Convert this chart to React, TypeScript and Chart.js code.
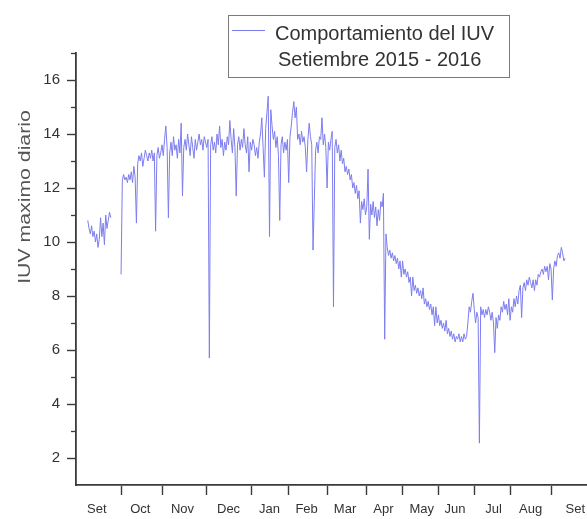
import { useEffect, useRef } from 'react';
import { Chart, registerables } from 'chart.js';

Chart.register(...registerables);

const FONT = '"Liberation Sans", Arial, Helvetica, sans-serif';
const LINE_COLOR = 'rgb(125,125,238)';
const AXIS_COLOR = '#3a3a3a';
const TEXT_COLOR = '#333333';

// day index of the first value (day 0 = start of the Setiembre axis)
const startDay = 4;

// daily maximum UV index, Setiembre 2015 - Setiembre 2016 (null = missing)
const iuvDaily: (number | null)[] = [
  10.8, 10.5, 10.3, 10.6, 10.2, 10.4, 10.0, 10.3, 9.8, 10.1,
  10.9, 10.2, 10.7, 9.9, 11.0, 10.5, 10.8, 11.1, 10.9,
  null, null, null, null, null, null, null,
  8.8, 12.3, 12.5, 12.3, 12.4, 12.2, 12.5, 12.3, 12.6, 12.2,
  12.8, 12.4, 10.7, 12.9, 13.2, 13.0, 13.3, 12.8, 13.1, 13.4,
  13.2, 13.0, 13.3, 13.1, 13.4, 13.0, 13.3, 10.4, 13.2, 13.5,
  13.1, 13.3, 13.6, 13.2, 13.8, 14.3, 13.5, 10.9, 13.3, 13.7,
  13.2, 13.9, 13.4, 13.6, 13.1, 13.8, 13.3, 14.4, 11.7, 13.5,
  13.8, 13.4, 14.0, 13.6, 13.2, 13.9, 13.5, 13.1, 13.8, 13.4,
  13.7, 14.0, 13.6, 13.8, 13.4, 13.9, 13.7, 13.5, 13.8, 5.7,
  13.6, 13.9, 13.4, 13.7, 13.3, 14.0, 13.6, 14.3, 13.5, 13.8,
  13.2, 13.7, 13.4, 13.9, 13.6, 14.5, 13.8, 13.3, 14.2, 13.5,
  11.7, 13.6, 13.9, 13.4, 13.8, 13.5, 14.2, 13.6, 13.3, 13.9,
  12.6, 13.7, 13.4, 13.8, 13.6, 13.2, 13.5, 13.1, 13.7, 14.0,
  14.6, 13.5, 12.4, 14.2, 14.8, 15.4, 10.2, 14.9, 14.3, 13.8,
  14.1, 13.5, 13.9, 13.2, 10.8, 13.6, 13.9, 13.3, 13.7, 13.4,
  13.8, 12.2, 13.9, 14.3, 14.8, 15.2, 14.6, 15.0, 13.8, 14.0,
  13.6, 14.1, 13.7, 13.9, 13.5, 12.6, 13.8, 14.4, 13.9, 13.6,
  9.7, 11.5, 13.4, 13.7, 13.3, 13.9, 13.8, 14.6, 13.6, 14.0,
  13.5, 12.0, 13.7, 13.4, 13.8, 14.1, 7.6, 13.5, 13.8, 13.3,
  13.6, 13.0, 13.4, 12.9, 13.1, 12.6, 12.8, 12.5, 12.7, 12.3,
  12.5, 12.0, 12.2, 11.8, 12.1, 11.6, 11.9, 10.7, 11.5, 11.2,
  11.6, 11.0, 11.3, 12.7, 10.1, 11.4, 11.0, 11.5, 10.9, 11.3,
  10.6, 11.2, 10.8, 11.5, 11.3, 11.8, 6.4, 10.3, 9.8, 9.5,
  9.7, 9.4, 9.6, 9.3, 9.5, 9.2, 9.4, 9.0, 9.3, 8.7,
  9.3, 8.8, 9.0, 8.7, 8.9, 8.5, 8.7, 8.0, 8.7, 8.2,
  8.4, 8.1, 8.3, 8.0, 8.2, 7.9, 8.3, 7.7, 7.9, 7.6,
  7.8, 7.5, 7.7, 7.3, 7.6, 6.9, 7.6, 7.0, 7.3, 6.9,
  7.1, 6.8, 7.0, 6.7, 7.1, 6.6, 6.8, 6.5, 6.7, 6.4,
  6.6, 6.3, 6.5, 6.4, 6.6, 6.3, 6.5, 6.3, 6.6, 6.4,
  6.5, 7.0, 7.6, 7.4, 7.8, 8.1, 7.5, 7.0, 7.4, 7.2,
  2.55, 7.6, 7.3, 7.5, 7.2, 7.5, 7.3, 7.6, 7.4, 7.1,
  7.4, 7.0, 5.9, 7.2, 6.8, 7.3, 7.1, 7.6, 7.4, 7.8,
  7.5, 7.7, 7.3, 7.9, 7.1, 7.6, 7.4, 7.9, 7.6, 8.0,
  7.7, 8.2, 8.4, 7.2, 8.3, 8.5, 8.2, 8.6, 8.4, 8.7,
  8.5, 8.3, 8.6, 8.2, 8.6, 8.4, 8.8, 8.7, 8.9, 9.0,
  8.8, 9.1, 8.9, 9.1, 8.6, 9.2, 9.0, 7.85, 9.0, 9.3,
  9.1, 9.5, 9.6, 9.4, 9.8, 9.6, 9.3, 9.4,
];

// x axis: month names (placed mid-month) and month boundary tick marks
const monthLabels = ['Set', 'Oct', 'Nov', 'Dec', 'Jan', 'Feb', 'Mar', 'Apr', 'May', 'Jun', 'Jul', 'Aug', 'Set'];
const monthLabelDays = [11, 45, 78, 114, 146, 175, 205, 235, 265, 291, 321, 350, 385];
const monthBoundaryDays = [30, 62, 97, 132, 161, 191, 222, 250, 278, 306, 334, 366];
const xMin = -5.2;
const xMax = 393.3;

// y axis
const yMin = 1;
const yMax = 17;
const yMajorTicks = [2, 4, 6, 8, 10, 12, 14, 16];
const yMinorTicks = [3, 5, 7, 9, 11, 13, 15, 17];

const yTitle = 'IUV maximo diario';
const legendLines = ['Comportamiento del IUV', 'Setiembre 2015 - 2016'];

export default function App() {
  const ref = useRef<HTMLCanvasElement>(null);

  useEffect(() => {
    const canvas = ref.current;
    if (!canvas) return;

    const points = iuvDaily.map((v, i) => ({ x: startDay + i, y: v }));
    const labelByDay = new Map<number, string>(monthLabelDays.map((d, i) => [d, monthLabels[i]]));
    const xTickValues = [...monthBoundaryDays, ...monthLabelDays].sort((a, b) => a - b);

    const decor = {
      id: 'decor',
      afterDraw(chart: any) {
        const ctx = chart.ctx as CanvasRenderingContext2D;
        const area = chart.chartArea;
        const ys = chart.scales.y;

        // minor y ticks
        ctx.save();
        ctx.strokeStyle = AXIS_COLOR;
        ctx.lineWidth = 1.3;
        yMinorTicks.forEach((v) => {
          const py = Math.round(ys.getPixelForValue(v)) + 0.5;
          ctx.beginPath();
          ctx.moveTo(area.left - 5, py);
          ctx.lineTo(area.left, py);
          ctx.stroke();
        });
        ctx.restore();

        // y axis title
        ctx.save();
        ctx.translate(25, 197);
        ctx.rotate(-Math.PI / 2);
        ctx.scale(1.25, 1);
        ctx.fillStyle = '#555555';
        ctx.font = `17px ${FONT}`;
        ctx.textAlign = 'center';
        ctx.textBaseline = 'middle';
        ctx.fillText(yTitle, 0, 0);
        ctx.restore();

        // legend box
        ctx.save();
        ctx.fillStyle = '#ffffff';
        ctx.fillRect(228.5, 15.5, 281, 62);
        ctx.strokeStyle = '#7a7a7a';
        ctx.lineWidth = 1;
        ctx.strokeRect(228.5, 15.5, 281, 62);
        ctx.strokeStyle = LINE_COLOR;
        ctx.beginPath();
        ctx.moveTo(232, 30.5);
        ctx.lineTo(265, 30.5);
        ctx.stroke();
        ctx.fillStyle = TEXT_COLOR;
        ctx.font = `20px ${FONT}`;
        ctx.textAlign = 'left';
        ctx.textBaseline = 'alphabetic';
        ctx.fillText(legendLines[0], 275, 40);
        ctx.fillText(legendLines[1], 278, 66);
        ctx.restore();
      },
    };

    const chart = new Chart(canvas, {
      type: 'line',
      data: {
        datasets: [
          {
            label: legendLines[0],
            data: points as any,
            borderColor: LINE_COLOR,
            backgroundColor: LINE_COLOR,
            borderWidth: 1,
            pointRadius: 0,
            tension: 0,
            spanGaps: false,
          },
        ],
      },
      options: {
        animation: false,
        responsive: false,
        maintainAspectRatio: false,
        layout: { padding: { top: 53, right: 1, left: 0, bottom: 0 } },
        plugins: {
          legend: { display: false },
          tooltip: { enabled: false },
          title: { display: false },
        },
        scales: {
          x: {
            type: 'linear',
            min: xMin,
            max: xMax,
            afterBuildTicks: (s: any) => {
              s.ticks = xTickValues.map((v) => ({ value: v }));
            },
            afterFit: (s: any) => {
              s.height = 34;
              s.paddingLeft = 0;
              s.paddingRight = 0;
            },
            ticks: {
              autoSkip: false,
              maxRotation: 0,
              minRotation: 0,
              padding: 7,
              color: TEXT_COLOR,
              font: { family: FONT, size: 13 },
              callback: (value: any) => labelByDay.get(Number(value)) ?? '',
            },
            grid: {
              drawOnChartArea: false,
              drawTicks: true,
              tickLength: 10,
              tickWidth: 1.4,
              tickColor: (c: any) =>
                c.tick && labelByDay.has(c.tick.value) ? 'rgba(0,0,0,0)' : AXIS_COLOR,
            },
            border: { display: true, color: AXIS_COLOR, width: 1.8 },
          },
          y: {
            type: 'linear',
            min: yMin,
            max: yMax,
            afterBuildTicks: (s: any) => {
              s.ticks = yMajorTicks.map((v) => ({ value: v }));
            },
            afterFit: (s: any) => {
              s.width = 76;
            },
            ticks: {
              padding: 7,
              color: TEXT_COLOR,
              font: { family: FONT, size: 15 },
              callback: (value: any) => String(value),
            },
            grid: {
              drawOnChartArea: false,
              drawTicks: true,
              tickLength: 9,
              tickWidth: 1.4,
              tickColor: AXIS_COLOR,
            },
            border: { display: true, color: AXIS_COLOR, width: 1.8 },
          },
        },
      },
      plugins: [decor],
    });

    return () => chart.destroy();
  }, []);

  return (
    <div style={{ position: 'fixed', left: 0, top: 0, width: 587, height: 519, background: '#ffffff' }}>
      <canvas ref={ref} width={587} height={519} style={{ width: '587px', height: '519px', display: 'block' }} />
    </div>
  );
}
